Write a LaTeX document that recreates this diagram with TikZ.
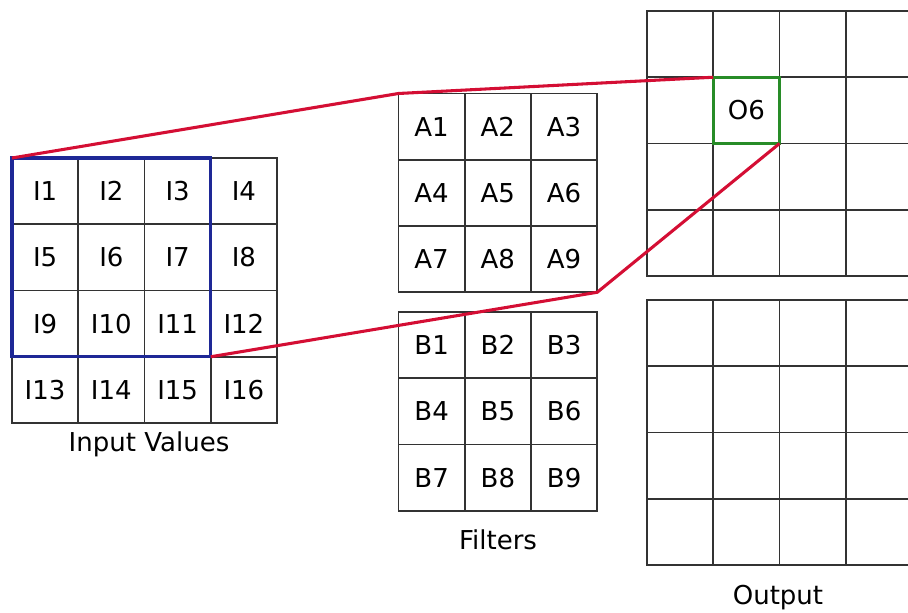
\documentclass[tikz,border=0pt]{standalone}
\usepackage{fontspec}
\setmainfont{DejaVu Sans}
\usetikzlibrary{fit}
\definecolor{linkred}{RGB}{212,14,52}
\definecolor{winblue}{RGB}{30,40,150}
\definecolor{wingreen}{RGB}{40,140,40}
\begin{document}
\begin{tikzpicture}[x=0.75pt,y=-0.75pt,
  cell/.style={draw=black!80,line width=1.25pt,minimum size=49.7pt,inner sep=0pt,outer sep=0pt,
    font=\fontsize{19.5}{20}\selectfont},
  caption/.style={font=\fontsize{19.5}{20}\selectfont,inner sep=0pt},
  link/.style={draw=linkred,line width=2.3pt,line join=round},
  win/.style={draw=winblue,line width=2.3pt,inner sep=0pt,outer sep=0pt},
  hit/.style={draw=wingreen,line width=2.3pt,outer sep=0pt}]
\useasboundingbox (0,0) rectangle (908,613);
% input grid
\foreach \r in {0,...,3} \foreach \c in {0,...,3} {
  \pgfmathtruncatemacro\k{4*\r+\c+1}
  \node[cell] (i\k) at ({12+66.25*(\c+0.5)},{158+66.25*(\r+0.5)}) {I\k};
}
% filters
\foreach \r in {0,...,2} \foreach \c in {0,...,2} {
  \pgfmathtruncatemacro\k{3*\r+\c+1}
  \node[cell] (a\k) at ({398.5+66.25*(\c+0.5)},{93.5+66.25*(\r+0.5)}) {A\k};
  \node[cell] (b\k) at ({398.5+66.25*(\c+0.5)},{312+66.25*(\r+0.5)}) {B\k};
}
% outputs
\foreach \r in {0,...,3} \foreach \c in {0,...,3} {
  \pgfmathtruncatemacro\k{4*\r+\c+1}
  \node[cell] (o\k) at ({647+66.25*(\c+0.5)},{11+66.25*(\r+0.5)}) {\ifnum\k=6 O6\fi};
  \node[cell] (p\k) at ({647+66.25*(\c+0.5)},{300+66.25*(\r+0.5)}) {};
}
% highlights
\node[win,fit=(i1)(i11)] (window) {};
\node[hit,minimum size=49.7pt,inner sep=0pt] (target) at (o6) {};
% links
\draw[link] (window.north west) -- (a1.north west) -- (target.north west);
\draw[link] (window.south east) -- (a9.south east) -- (target.south east);
% captions
\node[caption] (lin) at (149,444) {Input Values};
\node[caption] (lfi) at (498,540) {Filters};
\node[caption] (lout) at (778,598) {Output};
\end{tikzpicture}
\end{document}
